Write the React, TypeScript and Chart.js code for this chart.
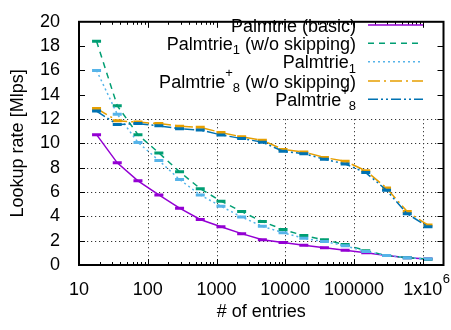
import React, { useEffect, useRef } from "react";
import { Chart, registerables } from "chart.js";

Chart.register(...registerables);

// ---- data ----
const entries = [18, 36, 72, 145, 290, 580, 1160, 2320, 4640, 9280, 18600, 37100, 74200, 148000, 297000, 594000, 1190000];
const basic = [10.72, 8.4, 6.92, 5.76, 4.67, 3.74, 3.15, 2.58, 2.07, 1.86, 1.63, 1.42, 1.22, 1.0, 0.78, 0.6, 0.5];
const palm1NoSkip = [18.4, 13.1, 10.72, 9.22, 7.67, 6.28, 5.25, 4.39, 3.57, 2.92, 2.42, 2.07, 1.68, 1.18, 0.78, 0.6, 0.48];
const palm1 = [16.0, 12.4, 10.08, 8.6, 7.03, 5.76, 4.83, 3.95, 3.18, 2.66, 2.19, 1.94, 1.58, 1.12, 0.78, 0.6, 0.5];
const palm8NoSkip = [12.87, 11.86, 11.75, 11.63, 11.42, 11.32, 10.9, 10.54, 10.26, 9.5, 9.3, 8.84, 8.53, 7.75, 6.33, 4.39, 3.28];
const palm8 = [12.66, 11.55, 11.63, 11.45, 11.2, 11.1, 10.7, 10.4, 10.1, 9.35, 9.15, 8.7, 8.3, 7.6, 6.15, 4.21, 3.15];

const seriesNames = [
  "Palmtrie (basic)",
  "Palmtrie1 (w/o skipping)",
  "Palmtrie1",
  "Palmtrie+8 (w/o skipping)",
  "Palmtrie+8",
];
// rich-text legend labels: [text, kind] where kind n=normal, b=subscript, p=superscript
const legendParts: [string, string][][] = [
  [["Palmtrie (basic)", "n"]],
  [["Palmtrie", "n"], ["1", "b"], [" (w/o skipping)", "n"]],
  [["Palmtrie", "n"], ["1", "b"]],
  [["Palmtrie", "n"], ["+", "p"], ["8", "b"], [" (w/o skipping)", "n"]],
  [["Palmtrie", "n"], ["+", "p"], ["8", "b"]],
];
const xTickValues = [10, 100, 1000, 10000, 100000, 1000000];
const xTickLabels = ["10", "100", "1000", "10000", "100000", "1x10"];
const xLastSup = "6";
const yTickValues = [0, 2, 4, 6, 8, 10, 12, 14, 16, 18, 20];
const xTitle = "# of entries";
const yTitle = "Lookup rate [Mlps]";

const colors = ["#9400d3", "#009e73", "#56b4e9", "#e69f00", "#0072b2"];
const dashes = [[], [6, 5], [2, 3], [12, 4, 2, 4], [10, 3, 2, 3, 2, 3]];
const seriesData = [basic, palm1NoSkip, palm1, palm8NoSkip, palm8];

const FONT = '"Liberation Sans", Arial, sans-serif';
const FS = 18;
const SFS = 13;
const legendLineY = [25, 43.3, 61.7, 81, 99.3];

const gnuplotPlugin = {
  id: "gnuplotLook",
  beforeDatasetsDraw(chart: any) {
    const { ctx, chartArea: a, scales } = chart;
    const x = scales.x, y = scales.y;
    ctx.save();
    ctx.strokeStyle = "#333";
    ctx.lineWidth = 1;
    ctx.setLineDash([1.2, 2.8]);
    const yTop = y.getPixelForValue(12);
    for (const v of [2, 4, 6, 8, 10, 12]) {
      const py = Math.round(y.getPixelForValue(v)) + 0.5;
      ctx.beginPath();
      ctx.moveTo(a.left, py);
      ctx.lineTo(a.right, py);
      ctx.stroke();
    }
    for (const v of xTickValues.slice(1)) {
      const px = Math.round(x.getPixelForValue(v)) + 0.5;
      ctx.beginPath();
      ctx.moveTo(px, yTop);
      ctx.lineTo(px, a.bottom);
      ctx.stroke();
    }
    ctx.restore();
  },
  afterDatasetsDraw(chart: any) {
    const { ctx, chartArea: a, scales } = chart;
    const x = scales.x, y = scales.y;
    ctx.save();
    ctx.setLineDash([]);
    ctx.strokeStyle = "#000";
    ctx.lineWidth = 1;
    for (const v of yTickValues.slice(1, -1)) {
      const py = Math.round(y.getPixelForValue(v)) + 0.5;
      ctx.beginPath();
      ctx.moveTo(a.left, py); ctx.lineTo(a.left + 6, py);
      ctx.moveTo(a.right, py); ctx.lineTo(a.right - 6, py);
      ctx.stroke();
    }
    for (let d = 10; d <= 1000000; d *= 10) {
      for (let m = 1; m <= 9; m++) {
        const v = d * m;
        if (v <= 10 || v >= 2000000) continue;
        const len = m === 1 ? 6 : 3;
        const px = Math.round(x.getPixelForValue(v)) + 0.5;
        ctx.beginPath();
        ctx.moveTo(px, a.bottom); ctx.lineTo(px, a.bottom - len);
        ctx.moveTo(px, a.top); ctx.lineTo(px, a.top + len);
        ctx.stroke();
      }
    }
    ctx.lineWidth = 2;
    ctx.strokeRect(a.left, a.top, a.right - a.left, a.bottom - a.top);
    ctx.restore();
  },
  afterDraw(chart: any) {
    const { ctx, scales } = chart;
    const x = scales.x;
    ctx.save();
    ctx.fillStyle = "#000";
    ctx.font = `${FS}px ${FONT}`;
    const w = ctx.measureText(xTickLabels[xTickLabels.length - 1]).width;
    const px = x.getPixelForValue(xTickValues[xTickValues.length - 1]) + w / 2;
    ctx.font = `${SFS}px ${FONT}`;
    ctx.textAlign = "left";
    ctx.textBaseline = "alphabetic";
    ctx.fillText(xLastSup, px + 0.5, 283);

    const textRight = 356;
    const sampleL = 368, sampleR = 423;
    legendParts.forEach((parts, i) => {
      const ly = legendLineY[i];
      const base = ly + 6.5;
      let total = 0;
      const widths = parts.map(([t, k]) => {
        ctx.font = `${k === "n" ? FS : SFS}px ${FONT}`;
        const ww = ctx.measureText(t).width;
        total += ww;
        return ww;
      });
      let cx = textRight - total;
      parts.forEach(([t, k], j) => {
        ctx.font = `${k === "n" ? FS : SFS}px ${FONT}`;
        const by = k === "b" ? base + 4.5 : k === "p" ? base - 10.5 : base;
        ctx.fillText(t, cx, by);
        cx += widths[j];
      });
      ctx.strokeStyle = colors[i];
      ctx.lineWidth = 1.5;
      ctx.setLineDash(dashes[i]);
      ctx.beginPath();
      ctx.moveTo(sampleL, ly);
      ctx.lineTo(sampleR, ly);
      ctx.stroke();
    });
    ctx.restore();
  },
};

export default function App() {
  const ref = useRef<HTMLCanvasElement | null>(null);
  useEffect(() => {
    document.body.style.margin = "0";
    const canvas = ref.current!;
    const datasets = seriesData.map((vals, i) => ({
      label: seriesNames[i],
      data: entries.map((e, k) => ({ x: e, y: vals[k] })),
      borderColor: colors[i],
      backgroundColor: colors[i],
      borderWidth: 1.5,
      borderDash: dashes[i],
      pointStyle: "line" as const,
      pointRadius: 4.5,
      pointBorderWidth: 3,
      pointBorderColor: colors[i],
      pointHoverRadius: 4.5,
      fill: false,
      tension: 0,
      order: 5 - i,
    }));
    const chart = new Chart(canvas, {
      type: "line",
      data: { datasets },
      plugins: [gnuplotPlugin],
      options: {
        responsive: false,
        animation: false,
        layout: { padding: { top: 7, right: 6, left: 0, bottom: 0 } },
        plugins: { legend: { display: false }, tooltip: { enabled: false } },
        scales: {
          x: {
            type: "logarithmic",
            min: 10,
            max: 2000000,
            grid: { display: false },
            border: { display: false },
            afterBuildTicks: (s: any) => {
              s.ticks = xTickValues.map((v) => ({ value: v }));
            },
            afterFit: (s: any) => {
              s.height = 65;
            },
            ticks: {
              autoSkip: false,
              maxRotation: 0,
              padding: 6,
              color: "#000",
              font: { family: FONT, size: FS },
              callback: (v: any) => {
                const i = xTickValues.indexOf(Number(v));
                return i >= 0 ? xTickLabels[i] : "";
              },
            },
            title: {
              display: true,
              text: xTitle,
              color: "#000",
              font: { family: FONT, size: FS },
              padding: { top: 0, bottom: 7 },
            },
          },
          y: {
            min: 0,
            max: 20,
            grid: { display: false },
            border: { display: false },
            afterBuildTicks: (s: any) => {
              s.ticks = yTickValues.map((v) => ({ value: v }));
            },
            afterFit: (s: any) => {
              s.width = 79;
            },
            ticks: {
              autoSkip: false,
              padding: 11,
              color: "#000",
              font: { family: FONT, size: FS },
            },
            title: {
              display: true,
              text: yTitle,
              color: "#000",
              font: { family: FONT, size: FS },
              padding: { top: 7, bottom: 0 },
            },
          },
        },
      },
    });
    return () => chart.destroy();
  }, []);
  return <canvas ref={ref} width={451} height={330} style={{ display: "block", width: 451, height: 330 }} />;
}
